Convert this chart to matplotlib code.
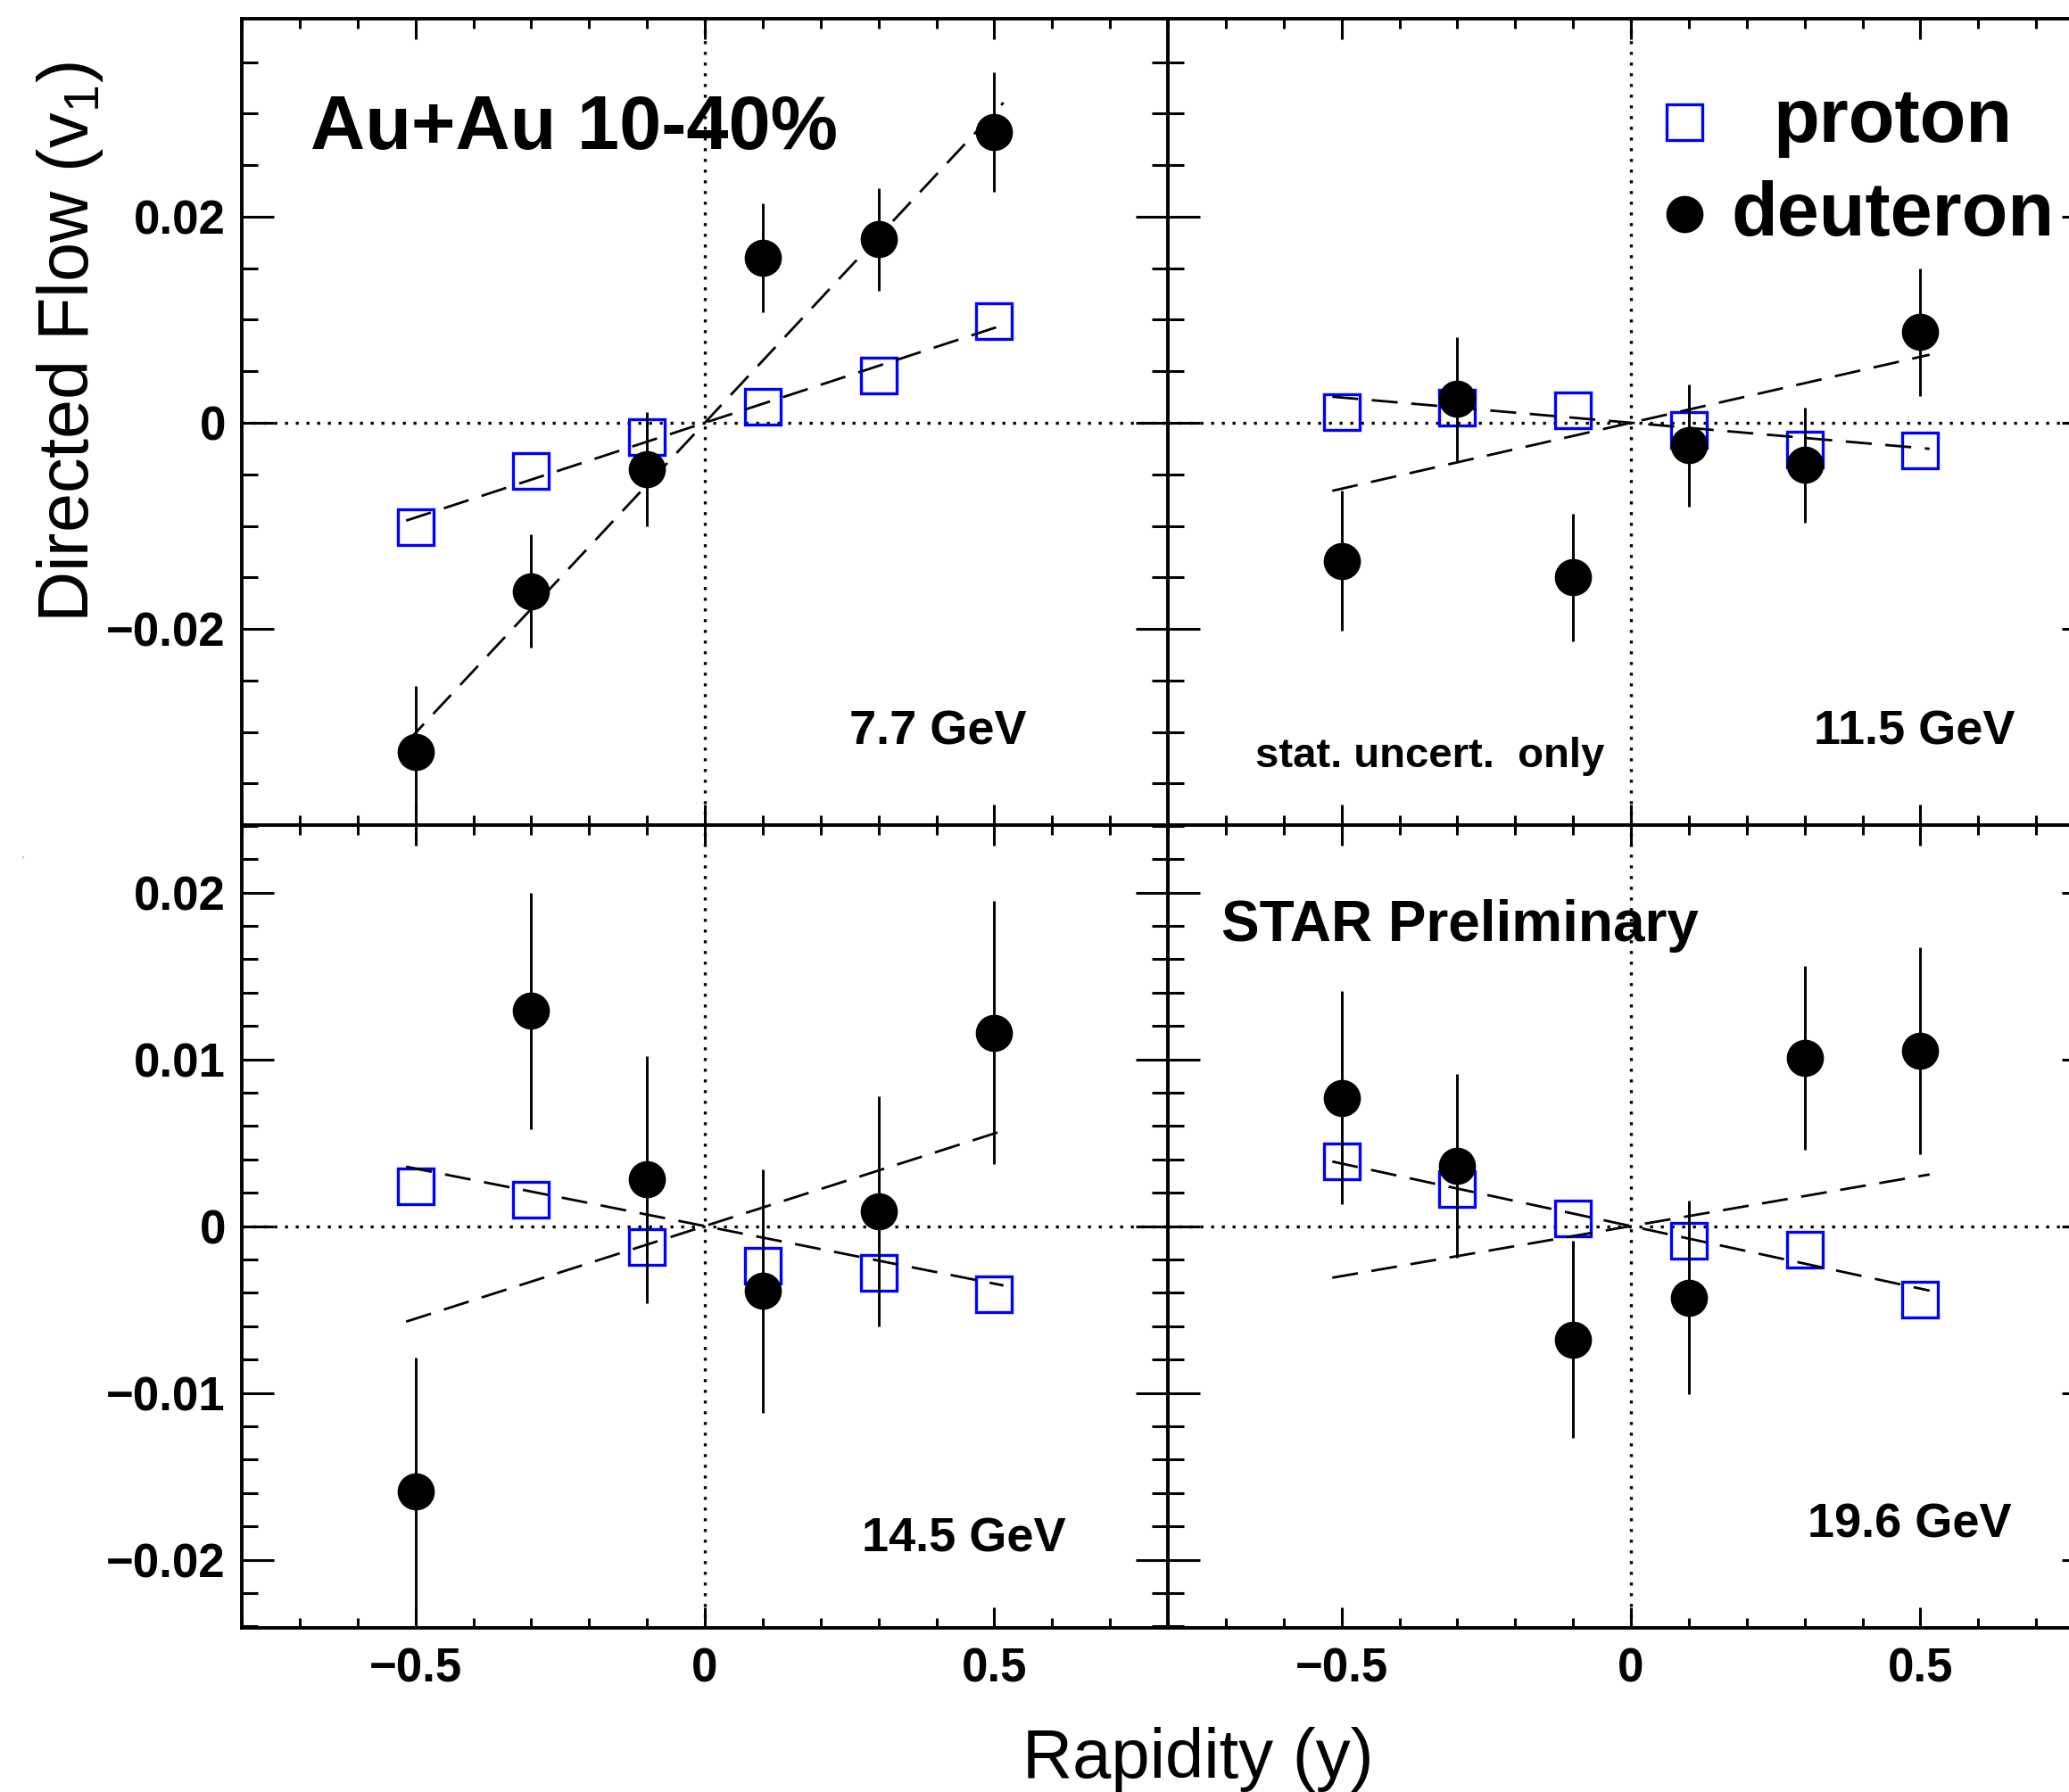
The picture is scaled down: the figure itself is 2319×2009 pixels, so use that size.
import matplotlib
matplotlib.use('Agg')
import matplotlib.pyplot as plt
from matplotlib.ticker import MultipleLocator, FixedLocator, FixedFormatter

plt.rcParams['font.family'] = ['Liberation Sans', 'DejaVu Sans']
plt.rcParams['mathtext.fontset'] = 'custom'
plt.rcParams['mathtext.rm'] = 'Liberation Sans'
plt.rcParams['axes.unicode_minus'] = True

# ---- data ----
rapidity = [-0.5, -0.3, -0.1, 0.1, 0.3, 0.5]
energies = ['7.7 GeV', '11.5 GeV', '14.5 GeV', '19.6 GeV']

proton_7p7 = [-0.0101, -0.0047, -0.00135, 0.00154, 0.0046, 0.0099]
proton_11p5 = [0.00106, 0.00144, 0.0012, -0.0007, -0.0026, -0.0027]
proton_14p5 = [0.0024, 0.0016, -0.00125, -0.0024, -0.0028, -0.0041]
proton_19p6 = [0.0039, 0.0022, 0.00047, -0.0009, -0.0014, -0.0044]

deuteron_7p7 = [-0.0319, -0.01635, -0.0045, 0.0160, 0.0178, 0.0282]
deuteron_7p7_err = [0.0064, 0.0055, 0.0055, 0.0053, 0.0050, 0.0058]
deuteron_11p5 = [-0.0134, 0.0023, -0.0150, -0.0022, -0.0041, 0.0088]
deuteron_11p5_err = [0.0068, 0.0060, 0.0062, 0.0059, 0.0056, 0.0062]
deuteron_14p5 = [-0.0159, 0.0129, 0.0028, -0.0039, 0.0009, 0.0116]
deuteron_14p5_err = [0.0080, 0.0071, 0.0074, 0.0073, 0.0069, 0.0079]
deuteron_19p6 = [0.0077, 0.0036, -0.0068, -0.0043, 0.0101, 0.0105]
deuteron_19p6_err = [0.0064, 0.0055, 0.0059, 0.0058, 0.0055, 0.0062]

# linear fits v1 = slope * y, over the fit range
proton_slopes = [0.0184, -0.0049, -0.0069, -0.0075]
deuteron_slopes = [0.0602, 0.0128, 0.0111, 0.0060]
fit_range = [-0.516, 0.516]

x_ticks = [-0.5, 0, 0.5]
x_ticklabels = ['\u22120.5', '0', '0.5']
y_ticks_top = [-0.02, 0, 0.02]
y_ticklabels_top = ['\u22120.02', '0', '0.02']
y_ticks_bot = [-0.02, -0.01, 0, 0.01, 0.02]
y_ticklabels_bot = ['\u22120.02', '\u22120.01', '0', '0.01', '0.02']

protons = [proton_7p7, proton_11p5, proton_14p5, proton_19p6]
deuterons = [deuteron_7p7, deuteron_11p5, deuteron_14p5, deuteron_19p6]
deuteron_errs = [deuteron_7p7_err, deuteron_11p5_err, deuteron_14p5_err, deuteron_19p6_err]

# ---- figure ----
W, H = 2319, 2009
fig = plt.figure(figsize=(W / 100, H / 100), dpi=100)


def px_axes(x0, y0, x1, y1):
    return fig.add_axes([x0 / W, 1 - y1 / H, (x1 - x0) / W, (y1 - y0) / H])


axes = [px_axes(271, 21, 1309, 924.6), px_axes(1309, 21, 2347, 924.6),
        px_axes(271, 924.6, 1309, 1824.5), px_axes(1309, 924.6, 2347, 1824.5)]

for i, ax in enumerate(axes):
    top = i < 2
    left = i % 2 == 0
    ax.set_xlim(-0.8, 0.8)
    if top:
        ax.set_ylim(-0.039, 0.0392)
        ax.yaxis.set_major_locator(FixedLocator(y_ticks_top))
        ax.yaxis.set_major_formatter(FixedFormatter(y_ticklabels_top))
        ax.yaxis.set_minor_locator(MultipleLocator(0.005))
    else:
        ax.set_ylim(-0.02406, 0.02406)
        ax.yaxis.set_major_locator(FixedLocator(y_ticks_bot))
        ax.yaxis.set_major_formatter(FixedFormatter(y_ticklabels_bot))
        ax.yaxis.set_minor_locator(MultipleLocator(0.002))
    ax.xaxis.set_major_locator(FixedLocator(x_ticks))
    ax.xaxis.set_major_formatter(FixedFormatter(x_ticklabels))
    ax.xaxis.set_minor_locator(MultipleLocator(0.1))

    for s in ax.spines.values():
        s.set_linewidth(2.8)
    ax.tick_params(which='both', direction='in', top=True, right=True, width=2.2,
                   labelsize=38, labelleft=left, labelbottom=not top)
    ax.tick_params(axis='x', which='major', length=16.5, pad=16)
    ax.tick_params(axis='x', which='minor', length=8)
    ax.tick_params(axis='y', which='major', length=26, pad=13)
    ax.tick_params(axis='y', which='minor', length=13)
    for lab in ax.get_xticklabels() + ax.get_yticklabels():
        lab.set_fontweight('bold')

    # zero lines
    ax.axhline(0, color='black', lw=2.4, dashes=(1, 2.6), zorder=1)
    ax.axvline(0, color='black', lw=2.4, dashes=(1, 2.6), zorder=1)

    # data
    ax.plot(rapidity, protons[i], ls='none', marker='s', ms=28.5, mfc='none',
            mec='#0000ff', mew=2.4, zorder=3)
    ax.errorbar(rapidity, deuterons[i], yerr=deuteron_errs[i], fmt='o', ms=29,
                color='black', elinewidth=2.1, capsize=0, zorder=4)

    # fits
    ax.plot(fit_range, [proton_slopes[i] * x for x in fit_range], color='black',
            lw=2.0, dashes=(10.5, 5.5), zorder=5)
    ax.plot(fit_range, [deuteron_slopes[i] * x for x in fit_range], color='black',
            lw=2.0, dashes=(10.5, 5.5), zorder=5)

# energy labels
axes[0].text(0.8478, 0.0992, energies[0], transform=axes[0].transAxes, ha='right',
             va='baseline', fontsize=39, fontweight='bold')
axes[1].text(0.9152, 0.0992, energies[1], transform=axes[1].transAxes, ha='right',
             va='baseline', fontsize=39, fontweight='bold')
axes[2].text(0.8902, 0.095, energies[2], transform=axes[2].transAxes, ha='right',
             va='baseline', fontsize=39, fontweight='bold')
axes[3].text(0.9114, 0.1122, energies[3], transform=axes[3].transAxes, ha='right',
             va='baseline', fontsize=39, fontweight='bold')

axes[0].text(0.0742, 0.8384, 'Au+Au 10-40%', transform=axes[0].transAxes,
             ha='left', va='baseline', fontsize=61, fontweight='bold')
axes[1].text(0.0944, 0.0715, 'stat. uncert.  only', transform=axes[1].transAxes,
             ha='left', va='baseline', fontsize=34, fontweight='bold')
axes[3].text(0.0578, 0.855, 'STAR Preliminary', transform=axes[3].transAxes,
             ha='left', va='baseline', fontsize=46, fontweight='bold')

# legend
axl = axes[1]
axl.plot([0.5578], [0.8716], transform=axl.transAxes, marker='s', ms=28.5,
         mfc='none', mec='#0000ff', mew=2.4, ls='none', clip_on=False)
axl.plot([0.5578], [0.7576], transform=axl.transAxes, marker='o', ms=29,
         color='black', ls='none', clip_on=False)
axl.text(0.7832, 0.8473, 'proton', transform=axl.transAxes, ha='center',
         va='baseline', fontsize=61, fontweight='bold')
axl.text(0.7832, 0.7311, 'deuteron', transform=axl.transAxes, ha='center',
         va='baseline', fontsize=61, fontweight='bold')

# axis titles
fig.text(79 / W, 1 - 384 / H, 'Directed Flow (v$_{1}$)', rotation=90,
         ha='center', va='center', fontsize=57)
fig.text(1146 / W, 1 - 1993 / H, 'Rapidity (y)', ha='left', va='baseline',
         fontsize=56)
fig.text(24 / W, 1 - 968 / H, "'", fontsize=8, color='0.45')

fig.savefig('out.png', dpi=100)
